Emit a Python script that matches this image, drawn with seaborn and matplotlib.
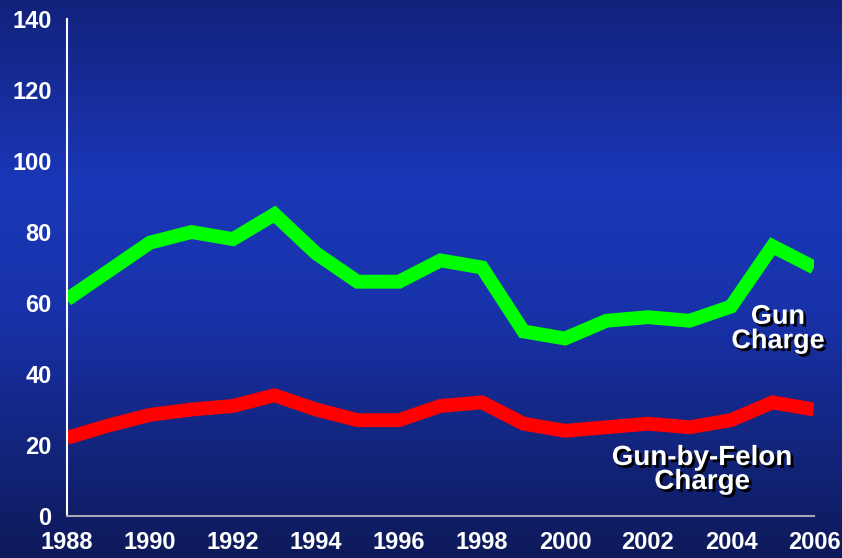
import numpy as np
import pandas as pd
import matplotlib
matplotlib.use("Agg")
import matplotlib.pyplot as plt
import matplotlib.patheffects as pe
from matplotlib.colors import LinearSegmentedColormap
import seaborn as sns

years = list(range(1988, 2007))
gun_charge = [61, 69, 77, 80, 78, 85, 74, 66, 66, 72, 70, 52, 50, 55, 56, 55, 59, 76, 70]
gun_by_felon = [22, 25.5, 28.5, 30, 31, 34, 30, 27, 27, 31, 32, 26, 24, 25, 26, 25, 27, 32, 30]
y_ticks = [0, 20, 40, 60, 80, 100, 120, 140]
x_ticks = list(range(1988, 2007, 2))

df = pd.DataFrame({"year": years + years,
                   "value": gun_charge + gun_by_felon,
                   "series": ["Gun Charge"] * len(years) + ["Gun-by-Felon Charge"] * len(years)})

sns.set_style("white")
plt.rcParams["font.family"] = ["Liberation Sans", "DejaVu Sans"]

fig = plt.figure(figsize=(8.42, 5.58), dpi=100)

# gradient background
bg = fig.add_axes([0, 0, 1, 1], zorder=0)
cmap = LinearSegmentedColormap.from_list("bg", [(0.0, "#12227c"), (0.33, "#1a37b8"), (0.55, "#1832aa"), (1.0, "#0e1a5a")])
grad = np.linspace(0, 1, 256).reshape(-1, 1)
bg.imshow(grad, aspect="auto", cmap=cmap, extent=[0, 1, 0, 1], origin="upper")
bg.set_axis_off()

ax = fig.add_axes([67 / 842, 1 - 516 / 558, (814 - 67) / 842, (516 - 19) / 558], zorder=1)
ax.patch.set_alpha(0)

sns.lineplot(data=df, x="year", y="value", hue="series",
             palette={"Gun Charge": "#00ff00", "Gun-by-Felon Charge": "#ff0000"},
             linewidth=10, ax=ax, legend=False)
for ln in ax.lines:
    ln.set_solid_joinstyle("miter")
    ln.set_solid_capstyle("butt")

ax.set_xlim(1988, 2006)
ax.set_ylim(0, 140)
ax.set_yticks(y_ticks)
ax.set_xticks(x_ticks)
ax.set_xlabel("")
ax.set_ylabel("")
for s in ["top", "right"]:
    ax.spines[s].set_visible(False)
ax.spines["left"].set_color("white")
ax.spines["left"].set_linewidth(1.5)
ax.spines["bottom"].set_color("#a8a8b8")
ax.spines["bottom"].set_linewidth(1.5)
ax.tick_params(axis="y", direction="in", length=11, width=1.5, color="#a8b0d8",
               labelcolor="white", labelsize=17, pad=11)
ax.tick_params(axis="x", length=0, labelcolor="white", labelsize=17, pad=11)
for lab in ax.get_xticklabels() + ax.get_yticklabels():
    lab.set_fontweight("bold")

shadow = [pe.withSimplePatchShadow(offset=(2, -2), shadow_rgbFace="black", alpha=1.0)]
ax.text(778 / 842, 1 - 329 / 558, "Gun\nCharge", transform=fig.transFigure,
        ha="center", va="center", color="white", fontsize=19.5, fontweight="bold",
        linespacing=0.92, path_effects=shadow)
ax.text(702 / 842, 1 - 470 / 558, "Gun-by-Felon\nCharge", transform=fig.transFigure,
        ha="center", va="center", color="white", fontsize=20, fontweight="bold",
        linespacing=0.9, path_effects=shadow)

fig.savefig("out.png", dpi=100)
